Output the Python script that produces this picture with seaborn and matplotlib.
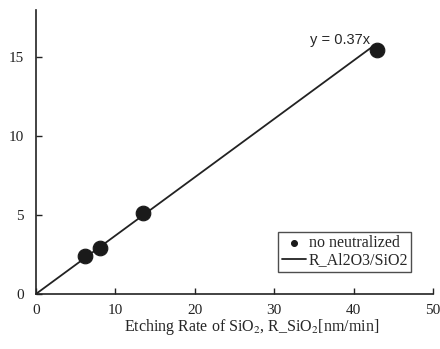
import matplotlib
matplotlib.use("Agg")
import matplotlib.pyplot as plt
import numpy as np
import pandas as pd
import seaborn as sns

# data
etch_sio2 = [6.2, 8.0, 13.5, 43.0]
etch_al2o3 = [2.4, 2.9, 5.1, 15.5]
slope = 0.37
fit_x = [0, 42.6]

sns.set_style("ticks")
plt.rcParams["font.family"] = ["Liberation Serif", "DejaVu Serif"]
plt.rcParams["mathtext.fontset"] = "stix"

df = pd.DataFrame(dict(x=etch_sio2, y=etch_al2o3))
fit = pd.DataFrame(dict(x=fit_x, y=[slope * v for v in fit_x]))

fig = plt.figure(figsize=(4.4, 3.49), dpi=100)
ax = fig.add_axes([0.082, 0.158, 0.902, 0.813])

sns.lineplot(data=fit, x="x", y="y", ax=ax, color="#222222", lw=1.3,
             label="R_Al2O3/SiO2", legend=False)
sns.scatterplot(data=df, x="x", y="y", ax=ax, color="#1a1a1a", s=110,
                edgecolor="#1a1a1a", label="no neutralized", legend=False, zorder=3)

ax.set_xlim(0, 50)
ax.set_ylim(0, 18)
ax.set_xticks([0, 10, 20, 30, 40, 50])
ax.set_yticks([0, 5, 10, 15])
ax.tick_params(direction="in", length=4, width=1, labelsize=11, colors="#222222")
ax.tick_params(axis="y", pad=9)
ax.tick_params(axis="x", pad=7)
sns.despine(ax=ax)
for s in ["left", "bottom"]:
    ax.spines[s].set_linewidth(1.2)
    ax.spines[s].set_color("#222222")

ax.set_xlabel("Etching Rate of SiO$_2$, R_SiO$_2$[nm/min]", fontsize=11.5,
              labelpad=0, x=0.542)
ax.set_ylabel("")

ax.text(42.1, 16.1, "y = 0.37x", ha="right", va="center", fontsize=10.5,
        family=["Liberation Sans", "DejaVu Sans"])

h, l = ax.get_legend_handles_labels()
order = [l.index("no neutralized"), l.index("R_Al2O3/SiO2")]
leg = ax.legend([h[i] for i in order], [l[i] for i in order],
                loc="lower right", bbox_to_anchor=(0.966, 0.05), fontsize=11.5,
                frameon=True, fancybox=False, edgecolor="#222222",
                handlelength=1.5, handletextpad=0.2, borderpad=0.2,
                labelspacing=0.1, markerscale=0.4)
leg.get_frame().set_linewidth(1.0)

fig.savefig("out.png", dpi=100)
